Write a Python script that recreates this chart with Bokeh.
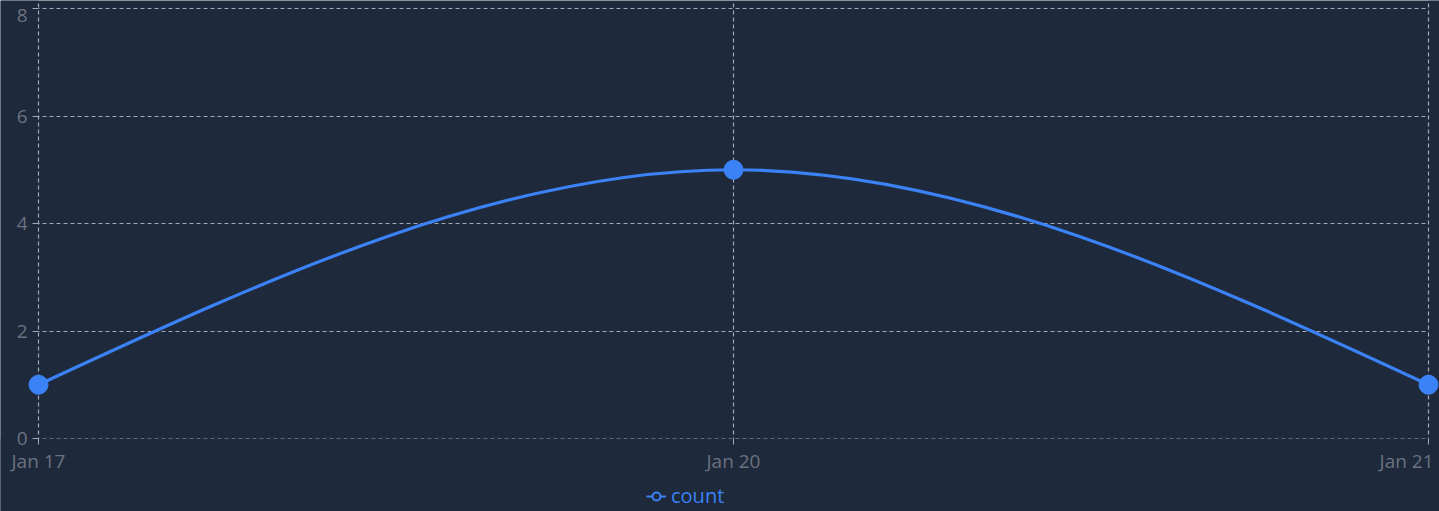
import numpy as np
from bokeh.plotting import figure
from bokeh.models import (Range1d, FixedTicker, Legend, LegendItem, Label,
                          BoxAnnotation, ColumnDataSource)
from bokeh.embed import file_html
from bokeh.resources import INLINE

# ---- data ----
dates = ["Jan 17", "Jan 20", "Jan 21"]
counts = [1, 5, 1]
y_ticks = [0, 2, 4, 6, 8]

BG = "#1e293b"
BLUE = "#3b82f6"
GRID = "#a3a9b4"
TXT = "#6b7280"
FONT = "Open Sans"
FS = "19px"

xs = list(range(len(dates)))


def monotone_tangents(x, y):
    """Tangents of a monotone-X cubic curve (as d3.curveMonotoneX)."""
    n = len(x)
    t = [0.0] * n
    for i in range(1, n - 1):
        h0 = x[i] - x[i - 1]
        h1 = x[i + 1] - x[i]
        s0 = (y[i] - y[i - 1]) / h0
        s1 = (y[i + 1] - y[i]) / h1
        pp = (s0 * h1 + s1 * h0) / (h0 + h1)
        t[i] = (np.sign(s0) + np.sign(s1)) * min(abs(s0), abs(s1), 0.5 * abs(pp))
    t[0] = (3 * (y[1] - y[0]) / (x[1] - x[0]) - t[1]) / 2
    t[-1] = (3 * (y[-1] - y[-2]) / (x[-1] - x[-2]) - t[-2]) / 2
    return t


tan = monotone_tangents(xs, counts)
x0 = np.array(xs[:-1], dtype=float); x1 = np.array(xs[1:], dtype=float)
y0 = np.array(counts[:-1], dtype=float); y1 = np.array(counts[1:], dtype=float)
t0 = np.array(tan[:-1]); t1 = np.array(tan[1:])
dx = (x1 - x0) / 3.0
curve = ColumnDataSource(dict(x0=x0, y0=y0, x1=x1, y1=y1,
                              cx0=x0 + dx, cy0=y0 + dx * t0,
                              cx1=x1 - dx, cy1=y1 - dx * t1))
pts = ColumnDataSource(dict(x=xs, y=counts))

# plot area: x 38..1428 px, y 8..438 px inside a 1439 x 511 canvas
XPX = (1428 - 38) / 2.0
YPX = (438 - 8) / 8.0
p = figure(width=1439, height=511,
           x_range=Range1d(-38 / XPX, 2 + 11 / XPX),
           y_range=Range1d(-73 / YPX, 8 + 8 / YPX),
           output_backend="svg", toolbar_location=None,
           background_fill_color=BG, border_fill_color=BG,
           outline_line_color=None,
           min_border_left=0, min_border_right=0,
           min_border_top=0, min_border_bottom=0)

# axes (fixed at the data origin)
p.xaxis.ticker = FixedTicker(ticks=xs)
p.xaxis.major_label_overrides = {xs[0]: dates[0], xs[1]: dates[1], xs[2]: ""}
p.xaxis.fixed_location = 0
p.yaxis.ticker = FixedTicker(ticks=y_ticks)
p.yaxis.major_label_overrides = {8: ""}
p.yaxis.fixed_location = 0
for ax in (p.xaxis[0], p.yaxis[0]):
    ax.axis_line_color = None
    ax.major_tick_line_color = GRID
    ax.major_tick_out = 6
    ax.major_tick_in = 0
    ax.minor_tick_line_color = None
    ax.major_label_text_color = TXT
    ax.major_label_text_font = FONT
    ax.major_label_text_font_size = FS
p.xaxis.major_label_standoff = 3
p.yaxis.major_label_standoff = 5

# grid
xgrid = p.xgrid[0]
ygrid = p.ygrid[0]
xgrid.ticker = FixedTicker(ticks=xs)
ygrid.ticker = FixedTicker(ticks=y_ticks)
xgrid.bounds = (-1, 3)
ygrid.bounds = (-1, 9)
for g in (xgrid, ygrid):
    g.grid_line_color = GRID
    g.grid_line_dash = "4 3"
    g.grid_line_width = 1.2
    g.grid_line_alpha = 1.0
    g.level = "underlay"

# keep grid lines inside the data area
box_left = BoxAnnotation(right=0, fill_color=BG, fill_alpha=1, line_color=None, level="underlay")
box_right = BoxAnnotation(left=2, fill_color=BG, fill_alpha=1, line_color=None, level="underlay")
box_bottom = BoxAnnotation(top=0, fill_color=BG, fill_alpha=1, line_color=None, level="underlay")

# curve and points
p.bezier(x0="x0", y0="y0", x1="x1", y1="y1", cx0="cx0", cy0="cy0",
         cx1="cx1", cy1="cy1", source=curve, line_color=BLUE, line_width=3.2)
p.scatter("x", "y", source=pts, size=19, fill_color=BLUE, line_color=BLUE)

# edge labels, shifted to stay inside the canvas
lab8 = Label(x=xs[0], y=8, text="8", x_offset=-11, y_offset=-7,
             text_align="right", text_baseline="middle",
             text_color=TXT, text_font=FONT, text_font_size=FS)
lab21 = Label(x=xs[2], y=0, text=dates[2], x_offset=5, y_offset=-9,
              text_align="right", text_baseline="top",
              text_color=TXT, text_font=FONT, text_font_size=FS)

# legend (icon renderers hold no visible point)
nan_src = ColumnDataSource(dict(x=[np.nan], y=[np.nan]))
leg_line = p.line("x", "y", source=nan_src, line_color=BLUE, line_width=2)
leg_dot = p.scatter("x", "y", source=nan_src, fill_color=BG, line_color=BLUE, line_width=2)
legend = Legend(items=[LegendItem(label="count", renderers=[leg_line, leg_dot])],
                location=(646, 2), orientation="horizontal",
                padding=0, margin=0, border_line_color=None,
                background_fill_alpha=0, glyph_width=20, glyph_height=20,
                label_standoff=5, label_text_color=BLUE,
                label_text_font=FONT, label_text_font_size="20px")

p.center = [ygrid, box_left, box_right, xgrid, box_bottom, lab8, lab21, legend]

open("out.html", "w").write(file_html(p, INLINE))
